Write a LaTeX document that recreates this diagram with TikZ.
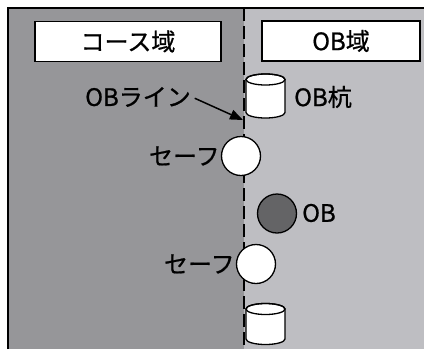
\documentclass[tikz,border=0pt]{standalone}
\usepackage{fontspec}
\newfontfamily\jp[FakeBold=0.8]{Noto Sans CJK JP}
\usetikzlibrary{arrows.meta}
\definecolor{darkzone}{RGB}{150,150,153}
\definecolor{lightzone}{RGB}{190,190,194}
\definecolor{obball}{RGB}{100,100,102}
\tikzset{
  lbl/.style={font=\jp\fontsize{24}{24}\selectfont, inner sep=1pt},
  titlebox/.style={draw=black, line width=1.6pt, fill=white, minimum height=40pt, font=\jp\fontsize{24}{24}\selectfont},
  ball/.style={circle, draw=black, line width=1.3pt, minimum size=39pt, inner sep=0pt},
  postpic/.pic={
    \filldraw[fill=white, draw=black, line width=1.3pt]
      (-19.5,-#1) -- (-19.5,#1) arc (180:0:19.5 and 5.5) -- (19.5,-#1) arc (0:-180:19.5 and 5.5) -- cycle;
    \draw[line width=1.3pt] (0,-#1) ellipse (19.5 and 5.5);
  },
}
\begin{document}
\begin{tikzpicture}[x=1pt,y=-1pt]
\useasboundingbox (0,0) rectangle (424,349);
\fill[white] (0,0) rectangle (424,349);
\fill[darkzone] (8,8) rectangle (244,349);
\fill[lightzone] (244,8) rectangle (424,349);
\draw[line width=1.5pt] (8,349) -- (8,8) -- (424,8);
\coordinate (ltop) at (244,8);
\coordinate (lbot) at (244,349);
\draw[line width=2.8pt, dash pattern=on 13pt off 5pt] (ltop) -- (lbot);
\node[titlebox, minimum width=186pt] (course) at (128,41.5) {コース域};
\node[titlebox, minimum width=158pt] (obzone) at (341,41) {OB域};
\coordinate (post1) at (265.5,96);
\pic at (post1) {postpic=16.5};
\node[lbl, anchor=west] (postlbl) at (293,97) {OB杭};
\node[lbl, anchor=east] (linelbl) at (192,97) {OBライン};
\coordinate (linept) at (243,120);
\draw[line width=1.5pt, shorten <=3pt, -{Triangle[length=13pt,width=10pt]}] (linelbl.east) -- (linept);
\node[ball, fill=white] (safe1) at (241,156) {};
\node[lbl, anchor=east] (safe1lbl) at (safe1.west) {セーフ};
\node[ball, fill=obball] (ob) at (277,213.5) {};
\node[lbl, anchor=west] (oblbl) at (301,213) {OB};
\node[ball, fill=white] (safe2) at (256,264) {};
\node[lbl, anchor=east] (safe2lbl) at (safe2.west) {セーフ};
\coordinate (post2) at (265.5,324);
\pic at (post2) {postpic=15};
\end{tikzpicture}
\end{document}
